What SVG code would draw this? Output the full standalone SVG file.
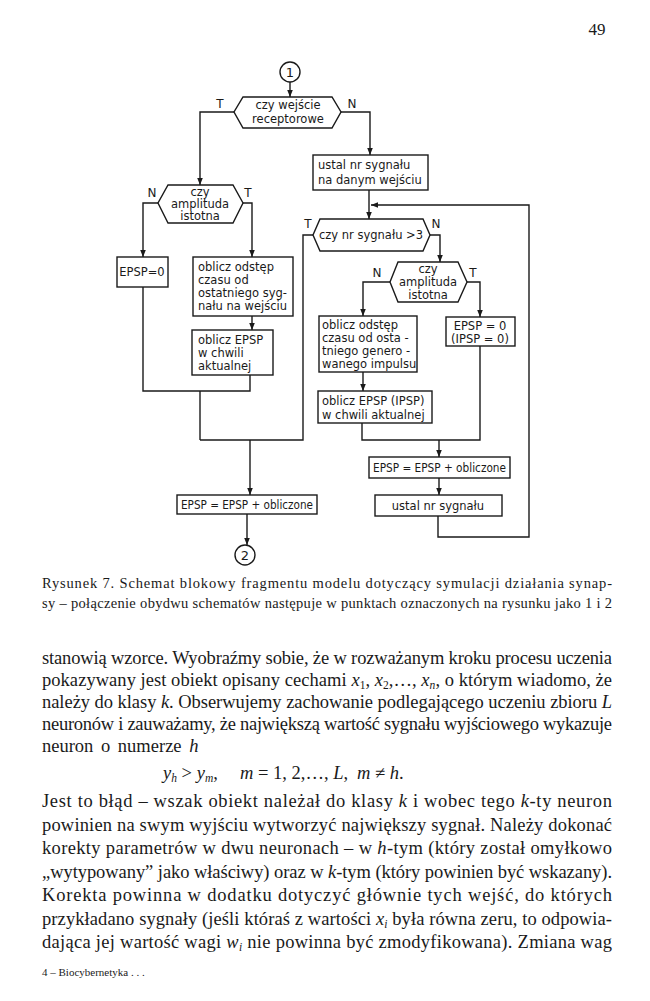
<svg xmlns="http://www.w3.org/2000/svg" width="650" height="1001" viewBox="0 0 650 1001">
<style>
.ln{fill:none;stroke:#1a1a1a;stroke-width:1.4}
.bx{fill:#fff;stroke:#1a1a1a;stroke-width:1.4}
.ft{font-family:"DejaVu Sans","Liberation Sans",sans-serif;font-size:11.5px;fill:#1a1a1a}
.c{text-anchor:middle}
.lb{font-family:"DejaVu Sans","Liberation Sans",sans-serif;font-size:12px;fill:#1a1a1a;text-anchor:middle}
.cap{font-family:"Liberation Serif",serif;font-size:14.5px;fill:#1a1a1a}
.bd{font-family:"Liberation Serif",serif;font-size:18.5px;fill:#1a1a1a}
.i{font-style:italic}
</style>
<defs>
<marker id="ah" viewBox="0 0 10 10" refX="10" refY="5" markerWidth="7" markerHeight="7" markerUnits="userSpaceOnUse" orient="auto">
<path d="M0,1 L10,5 L0,9 z" fill="#1a1a1a"/>
</marker>
</defs>
<rect width="650" height="1001" fill="#fff"/>
<text x="597" y="35" class="bd" style="font-size:17px" text-anchor="middle">49</text>

<g id="connectors">
<line class="ln" x1="290" y1="82" x2="290" y2="97" marker-end="url(#ah)"/>
<polyline class="ln" points="234,112 200,112 200,185" marker-end="url(#ah)"/>
<polyline class="ln" points="341,112 370,112 370,155" marker-end="url(#ah)"/>
<line class="ln" x1="369" y1="190" x2="369" y2="219" marker-end="url(#ah)"/>
<polyline class="ln" points="438,516 438,537 529,537 529,205 371,205" marker-end="url(#ah)"/>
<polyline class="ln" points="158,203 143,203 143,257" marker-end="url(#ah)"/>
<polyline class="ln" points="243,203 252,203 252,257" marker-end="url(#ah)"/>
<line class="ln" x1="252" y1="316" x2="252" y2="330" marker-end="url(#ah)"/>
<polyline class="ln" points="143,287 143,391 250,391 250,375"/>
<line class="ln" x1="200" y1="391" x2="200" y2="440"/>
<polyline class="ln" points="313,235 303,235 303,440 200,440"/>
<line class="ln" x1="250" y1="440" x2="250" y2="495" marker-end="url(#ah)"/>
<line class="ln" x1="247" y1="514" x2="247" y2="545" marker-end="url(#ah)"/>
<polyline class="ln" points="430,235 440,235 440,262" marker-end="url(#ah)"/>
<polyline class="ln" points="390,282 363,282 363,316" marker-end="url(#ah)"/>
<polyline class="ln" points="467,282 480,282 480,317" marker-end="url(#ah)"/>
<line class="ln" x1="363" y1="372" x2="363" y2="391" marker-end="url(#ah)"/>
<polyline class="ln" points="362,423 362,440 480,440 480,346"/>
<line class="ln" x1="439" y1="440" x2="439" y2="457" marker-end="url(#ah)"/>
<line class="ln" x1="439" y1="478" x2="439" y2="495" marker-end="url(#ah)"/>
<text x="220" y="108" class="lb">T</text>
<text x="352" y="108" class="lb">N</text>
<text x="152" y="197" class="lb">N</text>
<text x="248" y="197" class="lb">T</text>
<text x="308" y="228" class="lb">T</text>
<text x="436" y="228" class="lb">N</text>
<text x="377" y="277" class="lb">N</text>
<text x="473" y="277" class="lb">T</text>
</g>

<g id="start1">
<circle cx="290" cy="72" r="10" class="bx"/>
<text x="290" y="77" class="ft c" style="font-size:13px">1</text>
</g>
<g id="dec-receptor">
<polygon class="bx" points="243,97 332,97 341,112 332,128 243,128 234,112"/>
<text x="288" y="109" class="ft c">czy wejście</text>
<text x="288" y="123" class="ft c">receptorowe</text>
</g>
<g id="set-signal">
<rect class="bx" x="313" y="155" width="115" height="35"/>
<text x="318" y="169" class="ft">ustal nr sygnału</text>
<text x="318" y="184" class="ft">na danym wejściu</text>
</g>
<g id="dec-nr">
<polygon class="bx" points="320,219 423,219 430,235 423,251 320,251 313,235"/>
<text x="371" y="239" class="ft c">czy nr sygnału &gt;3</text>
</g>
<g id="dec-amp-left">
<polygon class="bx" points="168,185 233,185 243,203 233,223 168,223 158,203"/>
<text x="200" y="196" class="ft c">czy</text>
<text x="200" y="208" class="ft c">amplituda</text>
<text x="200" y="220" class="ft c">istotna</text>
</g>
<g id="epsp0-left">
<rect class="bx" x="117" y="257" width="51" height="30"/>
<text x="142" y="276" class="ft c">EPSP=0</text>
</g>
<g id="calc-interval-left">
<rect class="bx" x="193" y="257" width="100" height="59"/>
<text x="198" y="271" class="ft">oblicz odstęp</text>
<text x="198" y="284" class="ft">czasu od</text>
<text x="198" y="297" class="ft">ostatniego syg-</text>
<text x="198" y="310" class="ft">nału na wejściu</text>
</g>
<g id="calc-epsp-left">
<rect class="bx" x="192" y="330" width="81" height="45"/>
<text x="198" y="344" class="ft">oblicz EPSP</text>
<text x="198" y="357" class="ft">w chwili</text>
<text x="198" y="370" class="ft">aktualnej</text>
</g>
<g id="sum-left">
<rect class="bx" x="177" y="495" width="140" height="19"/>
<text x="181" y="509" class="ft" textLength="132" lengthAdjust="spacingAndGlyphs">EPSP = EPSP + obliczone</text>
</g>
<g id="end2">
<circle cx="245" cy="555" r="10" class="bx"/>
<text x="245" y="560" class="ft c" style="font-size:13px">2</text>
</g>
<g id="dec-amp-right">
<polygon class="bx" points="398,262 458,262 467,282 458,302 398,302 390,282"/>
<text x="428" y="273" class="ft c">czy</text>
<text x="428" y="286" class="ft c">amplituda</text>
<text x="428" y="299" class="ft c">istotna</text>
</g>
<g id="calc-interval-right">
<rect class="bx" x="319" y="316" width="98" height="56"/>
<text x="322" y="329" class="ft">oblicz odstęp</text>
<text x="322" y="342" class="ft">czasu od osta -</text>
<text x="322" y="355" class="ft">tniego genero -</text>
<text x="322" y="368" class="ft">wanego impulsu</text>
</g>
<g id="epsp0-right">
<rect class="bx" x="446" y="317" width="69" height="29"/>
<text x="480" y="330" class="ft c">EPSP = 0</text>
<text x="480" y="343" class="ft c">(IPSP = 0)</text>
</g>
<g id="calc-epsp-right">
<rect class="bx" x="318" y="391" width="114" height="32"/>
<text x="322" y="405" class="ft">oblicz EPSP (IPSP)</text>
<text x="322" y="419" class="ft">w chwili aktualnej</text>
</g>
<g id="sum-right">
<rect class="bx" x="369" y="457" width="141" height="21"/>
<text x="373" y="472" class="ft" textLength="133" lengthAdjust="spacingAndGlyphs">EPSP = EPSP + obliczone</text>
</g>
<g id="next-signal">
<rect class="bx" x="375" y="495" width="127" height="21"/>
<text x="438" y="510" class="ft c">ustal nr sygnału</text>
</g>

<text x="42" y="588" class="cap" textLength="570" lengthAdjust="spacing">Rysunek 7. Schemat blokowy fragmentu modelu dotyczący symulacji działania synap-</text>
<text x="42" y="608" class="cap" textLength="570" lengthAdjust="spacing">sy – połączenie obydwu schematów następuje w punktach oznaczonych na rysunku jako 1 i 2</text>

<text x="42" y="664" class="bd" textLength="570" lengthAdjust="spacing">stanowią wzorce. Wyobraźmy sobie, że w rozważanym kroku procesu uczenia</text>
<text x="42" y="686" class="bd" textLength="570" lengthAdjust="spacing">pokazywany jest obiekt opisany cechami <tspan class="i">x</tspan><tspan dy="3" font-size="11.5">1</tspan><tspan dy="-3">, </tspan><tspan class="i">x</tspan><tspan dy="3" font-size="11.5">2</tspan><tspan dy="-3">,…, </tspan><tspan class="i">x</tspan><tspan dy="3" font-size="11.5" class="i">n</tspan><tspan dy="-3">, o którym wiadomo, że</tspan></text>
<text x="42" y="708" class="bd" textLength="570" lengthAdjust="spacing">należy do klasy <tspan class="i">k</tspan>. Obserwujemy zachowanie podlegającego uczeniu zbioru <tspan class="i">L</tspan></text>
<text x="42" y="730" class="bd" textLength="570" lengthAdjust="spacing">neuronów i zauważamy, że największą wartość sygnału wyjściowego wykazuje</text>
<text x="42" y="752" class="bd" word-spacing="3">neuron o numerze <tspan class="i">h</tspan></text>
<text y="779" class="bd"><tspan x="163" class="i">y</tspan><tspan dy="3" font-size="11.5" class="i">h</tspan><tspan dy="-3"> &gt; </tspan><tspan class="i">y</tspan><tspan dy="3" font-size="11.5" class="i">m</tspan><tspan dy="-3">,</tspan><tspan x="240" class="i">m</tspan><tspan> = 1, 2,…, </tspan><tspan class="i">L</tspan><tspan>,</tspan><tspan x="357" class="i">m</tspan><tspan> ≠ </tspan><tspan class="i">h</tspan><tspan>.</tspan></text>

<text x="42" y="807" class="bd" textLength="570" lengthAdjust="spacing">Jest to błąd – wszak obiekt należał do klasy <tspan class="i">k</tspan> i wobec tego <tspan class="i">k</tspan>-ty neuron</text>
<text x="42" y="831" class="bd" textLength="570" lengthAdjust="spacing">powinien na swym wyjściu wytworzyć największy sygnał. Należy dokonać</text>
<text x="42" y="854" class="bd" textLength="570" lengthAdjust="spacing">korekty parametrów w dwu neuronach – w <tspan class="i">h</tspan>-tym (który został omyłkowo</text>
<text x="42" y="878" class="bd" textLength="570" lengthAdjust="spacing">„wytypowany” jako właściwy) oraz w <tspan class="i">k</tspan>-tym (który powinien być wskazany).</text>
<text x="42" y="901" class="bd" textLength="570" lengthAdjust="spacing">Korekta powinna w dodatku dotyczyć głównie tych wejść, do których</text>
<text x="42" y="925" class="bd" textLength="570" lengthAdjust="spacing">przykładano sygnały (jeśli któraś z wartości <tspan class="i">x</tspan><tspan dy="3" font-size="11.5" class="i">i</tspan><tspan dy="-3"> była równa zeru, to odpowia-</tspan></text>
<text x="42" y="948" class="bd" textLength="570" lengthAdjust="spacing">dająca jej wartość wagi <tspan class="i">w</tspan><tspan dy="3" font-size="11.5" class="i">i</tspan><tspan dy="-3"> nie powinna być zmodyfikowana). Zmiana wag</tspan></text>
<text x="42" y="976" class="cap" style="font-size:11px">4 – Biocybernetyka . . .</text>
</svg>
